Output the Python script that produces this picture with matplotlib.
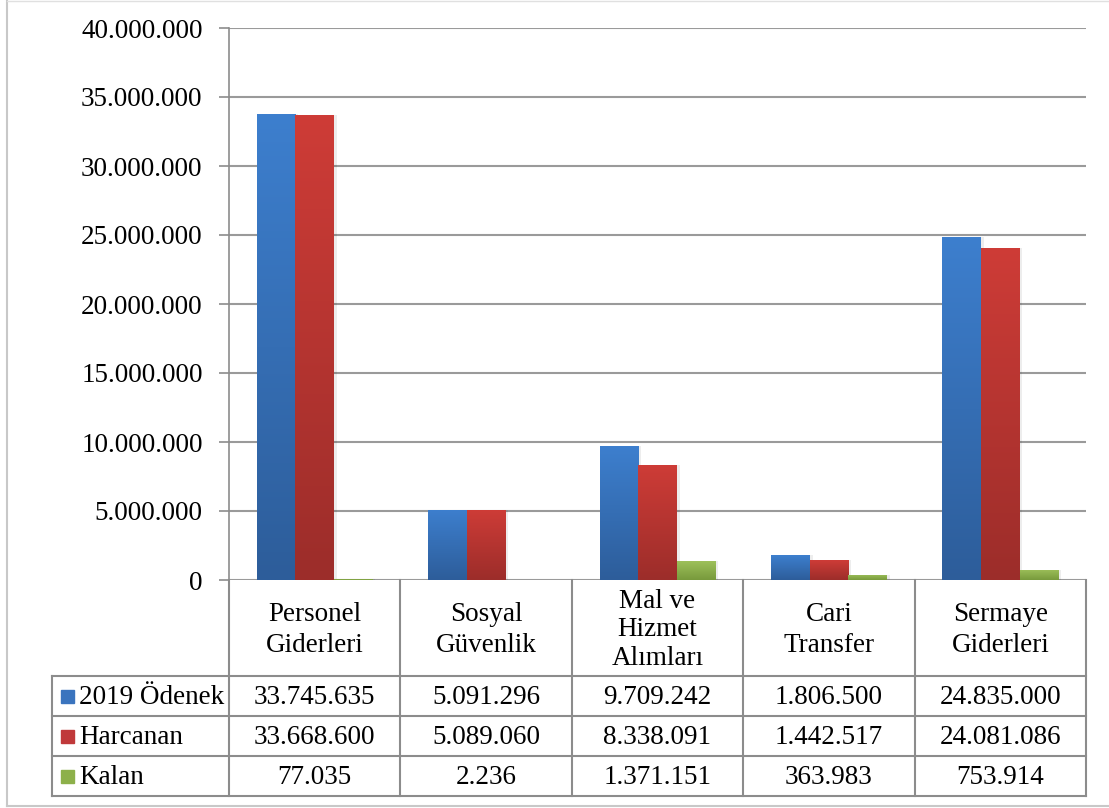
import numpy as np
import matplotlib
matplotlib.use('Agg')
import matplotlib.pyplot as plt
from matplotlib.colors import LinearSegmentedColormap

plt.rcParams['font.family'] = ['Liberation Serif', 'DejaVu Serif']

categories = ['Personel\nGiderleri', 'Sosyal\nGüvenlik', 'Mal ve\nHizmet\nAlımları',
              'Cari\nTransfer', 'Sermaye\nGiderleri']
series_names = ['2019 Ödenek', 'Harcanan', 'Kalan']
odenek = [33745635, 5091296, 9709242, 1806500, 24835000]
harcanan = [33668600, 5089060, 8338091, 1442517, 24081086]
kalan = [77035, 2236, 1371151, 363983, 753914]
yticks = [0, 5000000, 10000000, 15000000, 20000000, 25000000, 30000000, 35000000, 40000000]

# gradient colours: (top, bottom)
grads = [('#3D7FCE', '#2D5D9A'), ('#CE3C37', '#9C2D2A'), ('#9DC05A', '#789A3C')]
legend_cols = ['#3A74BE', '#C0393A', '#8DB04A']

W, H = 1109, 808
FS = 19.5
fig = plt.figure(figsize=(W / 100, H / 100), dpi=100)

def fx(x):
    return x / W

def fy(y):
    return 1 - y / H

# plot area
L, R, T, B = 229, 1086, 28, 580
ax = fig.add_axes([fx(L), fy(B), fx(R) - fx(L), fy(T) - fy(B)])
n = len(categories)
ax.set_xlim(0, n)
ax.set_ylim(0, 40000000)
ax.set_yticks(yticks)
ax.set_yticklabels([f'{v:,}'.replace(',', '.') for v in yticks], fontsize=FS)
ax.set_xticks([])
for s in ['top', 'right', 'bottom']:
    ax.spines[s].set_visible(False)
ax.spines['left'].set_color('#8C8C8C')
ax.spines['left'].set_linewidth(1.2)
ax.tick_params(axis='y', length=7, width=1.2, color='#8C8C8C', pad=12)
ax.grid(axis='y', color='#9A9A9A', linewidth=1.5)
ax.set_axisbelow(True)

bw = 0.225
offsets = [-bw, 0, bw]
grad = np.linspace(0, 1, 256).reshape(-1, 1)
for k, vals in enumerate([odenek, harcanan, kalan]):
    cmap = LinearSegmentedColormap.from_list('g%d' % k, [grads[k][1], grads[k][0]])
    x = np.arange(n) + 0.5 + offsets[k]
    bars = ax.bar(x, vals, width=bw, color='none', zorder=3)
    for b in bars:
        x0, w, h = b.get_x(), b.get_width(), b.get_height()
        # soft shadow
        ax.bar(x0 + w / 2 + 0.012, h, width=w + 0.01, color='#000000', alpha=0.07, zorder=2)
        im = ax.imshow(grad, cmap=cmap, origin='lower', aspect='auto',
                       extent=[x0, x0 + w, 0, h], zorder=3)
        im.set_clip_path(b)
ax.set_xlim(0, n)
ax.set_ylim(0, 40000000)

# table
ov = fig.add_axes([0, 0, 1, 1])
ov.set_xlim(0, W)
ov.set_ylim(H, 0)
ov.axis('off')
lc = '#8C8C8C'
lw = 1.5
colx = np.linspace(L, R, n + 1)
rows_y = [676, 716, 756, 796]
for cx in colx:
    ov.plot([cx, cx], [B, rows_y[-1]], color=lc, lw=lw)
ov.plot([52, 52], [rows_y[0], rows_y[-1]], color=lc, lw=lw)
for ry in rows_y:
    ov.plot([52, R], [ry, ry], color=lc, lw=lw)
for i, c in enumerate(categories):
    ls = 1.2 if c.count('\n') > 1 else 1.3
    ov.text((colx[i] + colx[i + 1]) / 2, 630, c, ha='center', va='center',
            fontsize=FS, linespacing=ls)
for r, (name, vals) in enumerate(zip(series_names, [odenek, harcanan, kalan])):
    yc = (rows_y[r] + rows_y[r + 1]) / 2
    ov.add_patch(plt.Rectangle((61, yc - 6.5), 13, 13, color=legend_cols[r]))
    ov.text(79, yc + 1, name, ha='left', va='center', fontsize=FS)
    for i, v in enumerate(vals):
        ov.text((colx[i] + colx[i + 1]) / 2, yc + 1, f'{v:,}'.replace(',', '.'),
                ha='center', va='center', fontsize=FS)

# outer border
ov.plot([7, 7], [0, 806], color='#C8C8C8', lw=1.5)
ov.plot([7, W], [806, 806], color='#C8C8C8', lw=1.5)
ov.plot([7, W], [0.5, 0.5], color='#E0E0E0', lw=1)

fig.savefig('out.png', dpi=100)
